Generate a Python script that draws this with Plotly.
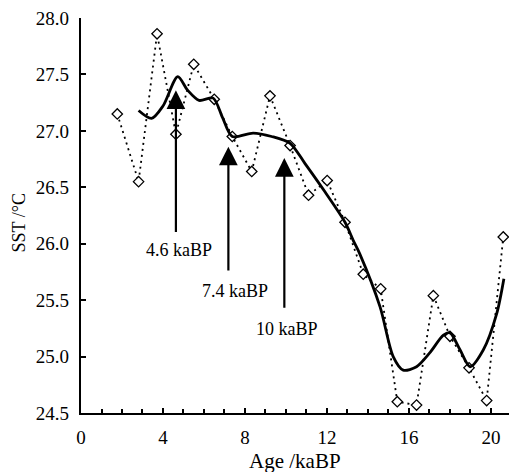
import plotly.graph_objects as go

# Measured SST points (diamonds, dotted line)
age = [1.77, 2.81, 3.71, 4.63, 5.50, 6.50, 7.38, 8.33, 9.22, 10.20, 11.10,
       12.01, 12.88, 13.77, 14.62, 15.43, 16.37, 17.19, 18.00, 18.93, 19.79, 20.60]
sst = [27.15, 26.55, 27.86, 26.97, 27.59, 27.28, 26.95, 26.64, 27.31, 26.87, 26.43,
       26.56, 26.19, 25.73, 25.60, 24.60, 24.57, 25.54, 25.18, 24.90, 24.61, 26.06]

# Smoothed curve (solid line)
smooth_age = [2.81, 3.44, 4.00, 4.72, 5.20, 5.76, 6.45, 6.90, 7.38, 8.40, 9.30, 10.20,
              10.93, 11.90, 12.88, 13.28, 13.60, 14.59, 15.23, 15.72, 16.37, 17.00,
              17.68, 18.00, 18.49, 18.98, 19.63, 20.28, 20.63]
smooth_sst = [27.18, 27.11, 27.22, 27.48, 27.36, 27.27, 27.29, 27.12, 26.95, 26.98, 26.95, 26.89,
              26.71, 26.46, 26.19, 26.03, 25.91, 25.44, 25.00, 24.88, 24.91, 25.03,
              25.19, 25.21, 25.06, 24.91, 25.06, 25.38, 25.69]

# Event arrows: label, x, tip y, tail y, label position
event_labels = ["4.6 kaBP", "7.4 kaBP", "10 kaBP"]
event_x = [4.63, 7.19, 9.92]
event_tip = [27.36, 26.86, 26.76]
event_tail = [26.09, 25.75, 25.42]
event_label_x = [4.80, 7.51, 10.07]
event_label_y = [25.94, 25.58, 25.24]

x_ticks = [0, 4, 8, 12, 16, 20]
y_ticks = [24.5, 25.0, 25.5, 26.0, 26.5, 27.0, 27.5, 28.0]

font = "Liberation Serif, Times New Roman, serif"

fig = go.Figure()
fig.add_trace(go.Scatter(
    x=age, y=sst, mode="lines+markers",
    line=dict(color="black", width=1.8, dash="2px,4px"),
    marker=dict(symbol="diamond", size=8, color="white",
                line=dict(color="black", width=1.3)),
    cliponaxis=False, showlegend=False))
fig.add_trace(go.Scatter(
    x=smooth_age, y=smooth_sst, mode="lines",
    line=dict(color="black", width=2.8, shape="spline", smoothing=0.8),
    cliponaxis=False, showlegend=False))

annotations = []
for lab, x, tip, tail, lx, ly in zip(event_labels, event_x, event_tip, event_tail,
                                      event_label_x, event_label_y):
    annotations.append(dict(x=x, y=tip, ax=x, ay=tail, xref="x", yref="y",
                            axref="x", ayref="y", text="", showarrow=True,
                            arrowhead=2, arrowsize=1.7, arrowwidth=2.2,
                            arrowcolor="black"))
    annotations.append(dict(x=lx, y=ly, xref="x", yref="y", text=lab,
                            showarrow=False, font=dict(family=font, size=18, color="black")))

annotations.append(dict(x=0.5, y=0, xref="paper", yref="paper", text="Age /kaBP",
                        showarrow=False, yshift=-48, yanchor="middle",
                        font=dict(family=font, size=21, color="black")))
annotations.append(dict(x=0, y=0.5, xref="paper", yref="paper", text="SST /°C",
                        showarrow=False, textangle=-90, xshift=-63, xanchor="center",
                        yshift=-8,
                        font=dict(family=font, size=18, color="black")))

fig.update_layout(
    width=509, height=472,
    margin=dict(l=81, r=0, t=18, b=59),
    paper_bgcolor="white", plot_bgcolor="white",
    font=dict(family=font, size=19, color="black"),
    annotations=annotations,
    xaxis=dict(range=[0, 20.88], tickvals=x_ticks, ticktext=[str(v) for v in x_ticks],
               showgrid=False, zeroline=False, showline=True, linecolor="black",
               linewidth=2.2, ticks="inside", ticklen=5, tickwidth=2.2, tickcolor="black",
               ticklabelstandoff=6,
               minor=dict(dtick=1, tick0=0, ticks="inside", ticklen=4, tickwidth=2,
                          tickcolor="black", showgrid=False),
               tickfont=dict(family=font, size=19, color="black")),
    yaxis=dict(range=[24.5, 28.0], tickvals=y_ticks,
               ticktext=[f"{v:.1f}" for v in y_ticks],
               showgrid=False, zeroline=False, showline=True, linecolor="black",
               linewidth=2.2, ticks="inside", ticklen=5, tickwidth=2.2, tickcolor="black",
               ticklabelstandoff=6,
               tickfont=dict(family=font, size=19, color="black")),
)

fig.write_html("out.html")
